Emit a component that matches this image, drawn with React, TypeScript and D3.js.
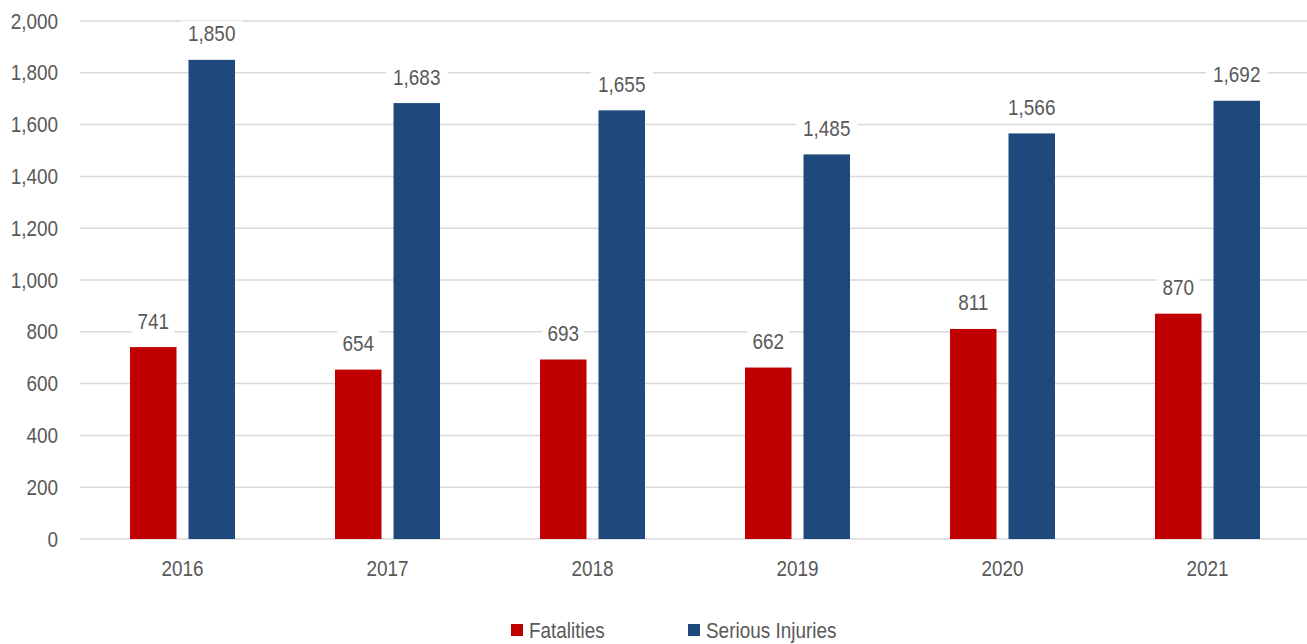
import React from 'react'
import * as d3 from 'd3'

// Values
const years = ['2016', '2017', '2018', '2019', '2020', '2021']
const fatalities = [741, 654, 693, 662, 811, 870]
const seriousInjuries = [1850, 1683, 1655, 1485, 1566, 1692]
const seriesNames = ['Fatalities', 'Serious Injuries']
const seriesColors = ['#C00000', '#1F497D']
const yTicks = [0, 200, 400, 600, 800, 1000, 1200, 1400, 1600, 1800, 2000]

const WIDTH = 1307
const HEIGHT = 644
const FONT = '"Liberation Sans Narrow", "Arial Narrow", "Liberation Sans", Arial, sans-serif'
const TEXT = '#595959'

// narrow-looking text: the reference uses a condensed face, so squeeze a regular one
const Label: React.FC<{ x: number; y: number; anchor?: string; children: React.ReactNode }> = ({ x, y, anchor, children }) => (
  <g transform={`translate(${x},${y}) scale(0.88,1)`}>
    <text x={0} y={0} dy="0.35em" textAnchor={anchor ?? 'start'} fontFamily={FONT} fontSize={21.5} fill={TEXT}>
      {children}
    </text>
  </g>
)

const App: React.FC = () => {
  const left = 80
  const right = 1310
  const top = 21
  const bottom = 539

  const x0 = d3.scaleBand<string>().domain(years).range([left, right]).paddingInner(0).paddingOuter(0)
  const x1 = d3.scaleBand<string>().domain(seriesNames).range([-52.5, 52.5]).paddingInner(0.205)
  const y = d3.scaleLinear().domain([0, 2000]).range([bottom, top])

  const series = [fatalities, seriousInjuries]
  const fmt = d3.format(',')

  return (
    <div style={{ position: 'absolute', left: 0, top: 0 }}>
      <svg width={WIDTH} height={HEIGHT} style={{ display: 'block', background: '#fff' }}>
        {/* gridlines */}
        {yTicks.map(t => (
          <line key={t} x1={left} x2={WIDTH} y1={y(t)} y2={y(t)} stroke="#D9D9D9" strokeWidth={1.5} />
        ))}
        {/* y tick labels */}
        {yTicks.map(t => (
          <Label key={'l' + t} x={58} y={y(t)} anchor="end">{fmt(t)}</Label>
        ))}
        {/* bars */}
        {years.map((yr, i) => {
          const cx = (x0(yr) ?? 0) + x0.bandwidth() / 2
          return (
            <g key={yr}>
              {seriesNames.map((s, j) => {
                const v = series[j][i]
                const bx = cx + (x1(s) ?? 0)
                return (
                  <rect key={s} x={bx} y={y(v)} width={x1.bandwidth()} height={bottom - y(v)} fill={seriesColors[j]} />
                )
              })}
            </g>
          )
        })}
        {/* data labels with white backing */}
        {years.map((yr, i) => {
          const cx = (x0(yr) ?? 0) + x0.bandwidth() / 2
          return (
            <g key={'dl' + yr}>
              {seriesNames.map((s, j) => {
                const v = series[j][i]
                const lx = cx + (x1(s) ?? 0) + x1.bandwidth() / 2
                const ly = y(v) - 26
                const label = fmt(v)
                const w = label.length * 10 + 12
                return (
                  <g key={s}>
                    <rect x={lx - w / 2} y={ly - 13} width={w} height={26} fill="#fff" />
                    <Label x={lx} y={ly} anchor="middle">{label}</Label>
                  </g>
                )
              })}
            </g>
          )
        })}
        {/* x axis labels */}
        {years.map(yr => (
          <Label key={'x' + yr} x={(x0(yr) ?? 0) + x0.bandwidth() / 2} y={568} anchor="middle">{yr}</Label>
        ))}
        {/* legend */}
        {seriesNames.map((s, j) => {
          const lx = j === 0 ? 511 : 688
          return (
            <g key={'lg' + s}>
              <rect x={lx} y={624} width={12} height={12} fill={seriesColors[j]} />
              <Label x={lx + 18} y={630}>{s}</Label>
            </g>
          )
        })}
      </svg>
    </div>
  )
}

export default App
